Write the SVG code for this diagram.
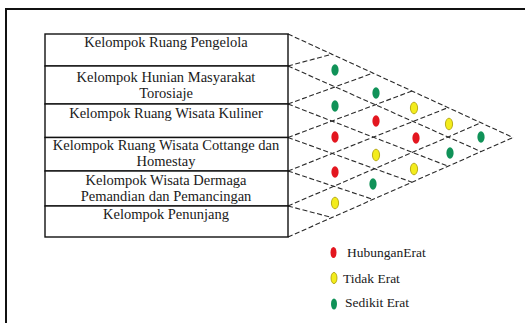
<svg xmlns="http://www.w3.org/2000/svg" width="525" height="323" viewBox="0 0 525 323">
<style>
.row{fill:#fff;stroke:#111;stroke-width:1.4}
.t{font-family:"Liberation Serif","Times New Roman",serif;font-size:14.5px;fill:#1a1a1a;text-anchor:middle}
.lg{font-family:"Liberation Serif","Times New Roman",serif;font-size:13.5px;fill:#1a1a1a}
.dl{stroke:#2a2a2a;stroke-width:1.1;stroke-dasharray:5 2.5;fill:none}
.r{fill:#e3161f}
.y{fill:#f3ec1c;stroke:#a89a00;stroke-width:0.8}
.g{fill:#109258}
</style>
<rect width="525" height="323" fill="#fff"/>
<rect x="6" y="9" width="540" height="340" fill="none" stroke="#111" stroke-width="2"/>
<g id="connectors">
<line class="dl" x1="288" y1="34" x2="513" y2="137.5"/>
<line class="dl" x1="288" y1="66" x2="481" y2="151.6"/>
<line class="dl" x1="288" y1="104" x2="448" y2="166.2"/>
<line class="dl" x1="288" y1="137.5" x2="412" y2="182.2"/>
<line class="dl" x1="288" y1="171" x2="373" y2="199.4"/>
<line class="dl" x1="288" y1="206" x2="332" y2="217.5"/>
<line class="dl" x1="288" y1="237" x2="513" y2="137.5"/>
<line class="dl" x1="288" y1="206" x2="481" y2="122.8"/>
<line class="dl" x1="288" y1="171" x2="448" y2="107.6"/>
<line class="dl" x1="288" y1="137.5" x2="412" y2="91"/>
<line class="dl" x1="288" y1="104" x2="373" y2="73.1"/>
<line class="dl" x1="288" y1="66" x2="332" y2="54.2"/>
</g>
<g id="row-pengelola"><rect class="row" x="45" y="34" width="243" height="32"/><text class="t" x="166" y="47">Kelompok Ruang Pengelola</text></g>
<g id="row-hunian"><rect class="row" x="45" y="66" width="243" height="38"/><text class="t" x="166" y="81.5">Kelompok Hunian Masyarakat</text><text class="t" x="166" y="97.8">Torosiaje</text></g>
<g id="row-kuliner"><rect class="row" x="45" y="104" width="243" height="33.5"/><text class="t" x="166" y="118">Kelompok Ruang Wisata Kuliner</text></g>
<g id="row-cottage"><rect class="row" x="45" y="137.5" width="243" height="33.5"/><text class="t" x="166" y="150">Kelompok Ruang Wisata Cottange dan</text><text class="t" x="166" y="166.3">Homestay</text></g>
<g id="row-dermaga"><rect class="row" x="45" y="171" width="243" height="35"/><text class="t" x="166" y="184.5">Kelompok Wisata Dermaga</text><text class="t" x="166" y="200.8">Pemandian dan Pemancingan</text></g>
<g id="row-penunjang"><rect class="row" x="45" y="206" width="243" height="31"/><text class="t" x="166" y="219">Kelompok Penunjang</text></g>
<g id="matrix-dots">
<ellipse class="g" cx="335" cy="70" rx="3.6" ry="5.8"/>
<ellipse class="g" cx="376" cy="93" rx="3.6" ry="5.8"/>
<ellipse class="g" cx="335" cy="106" rx="3.6" ry="5.8"/>
<ellipse class="y" cx="414" cy="108" rx="3.6" ry="5.8"/>
<ellipse class="r" cx="376" cy="121" rx="3.6" ry="5.8"/>
<ellipse class="y" cx="449" cy="124" rx="3.6" ry="5.8"/>
<ellipse class="r" cx="335" cy="137" rx="3.6" ry="5.8"/>
<ellipse class="r" cx="416" cy="138" rx="3.6" ry="5.8"/>
<ellipse class="g" cx="481" cy="137" rx="3.6" ry="5.8"/>
<ellipse class="y" cx="376" cy="155" rx="3.6" ry="5.8"/>
<ellipse class="g" cx="450" cy="153" rx="3.6" ry="5.8"/>
<ellipse class="r" cx="335" cy="172" rx="3.6" ry="5.8"/>
<ellipse class="y" cx="414" cy="169" rx="3.6" ry="5.8"/>
<ellipse class="g" cx="373" cy="184" rx="3.6" ry="5.8"/>
<ellipse class="y" cx="335" cy="203" rx="3.6" ry="5.8"/>
</g>
<g id="legend">
<ellipse class="r" cx="333.5" cy="252.5" rx="3" ry="5.6"/><text class="lg" x="347" y="256.5">HubunganErat</text>
<ellipse class="y" cx="334" cy="278" rx="3" ry="5.6"/><text class="lg" x="343" y="283">Tidak Erat</text>
<ellipse class="g" cx="334" cy="304" rx="3" ry="5.6"/><text class="lg" x="345" y="307">Sedikit Erat</text>
</g>
</svg>
